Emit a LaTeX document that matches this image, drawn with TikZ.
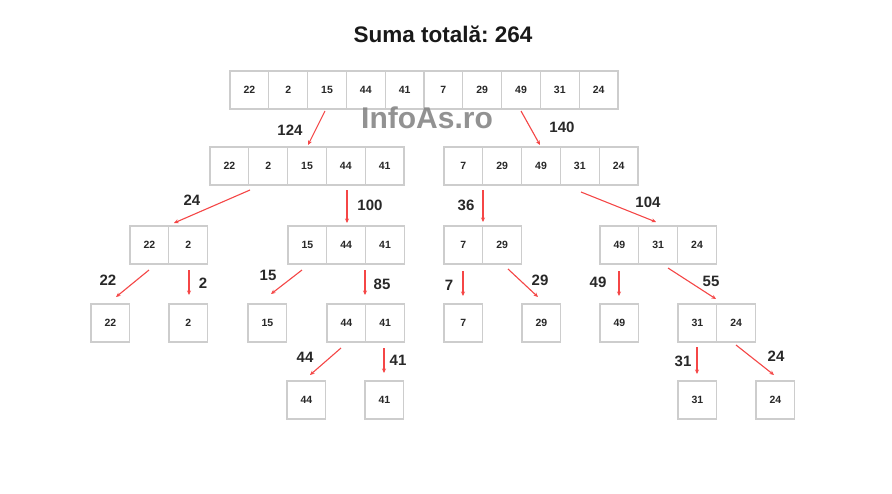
\documentclass[tikz,border=0pt]{standalone}
\usepackage{fontspec}
\setmainfont{Liberation Sans}
\usetikzlibrary{arrows.meta}
\definecolor{boxgray}{RGB}{205,205,205}
\definecolor{arrred}{RGB}{245,70,70}
\definecolor{txtdark}{RGB}{40,40,40}
\definecolor{wmgray}{RGB}{135,135,135}
\frenchspacing
\tikzset{
  cellbox/.style={draw=boxgray, line width=1.1pt, minimum width=38.8pt, minimum height=38pt,
    inner sep=0pt, font=\fontsize{10.5pt}{12pt}\selectfont\bfseries, text=txtdark},
  arr/.style={draw=arrred, line width=1.1pt, -{Stealth[length=4.5pt,width=4pt]}},
  lab/.style={font=\fontsize{15pt}{17pt}\selectfont\bfseries, text=txtdark, inner sep=0pt},
}
\newcommand{\cellrow}[4]{%
  \foreach \v [count=\i] in {#4} {
    \node[cellbox] (#1-\i) at ({#2+(\i-0.5)*38.8}, {#3+19}) {\v};
  }%
}
\newcommand{\arrlab}[8]{%
  \coordinate (#1s) at (#2,#3);
  \coordinate (#1e) at (#4,#5);
  \draw[arr] (#1s) -- (#1e);
  \node[lab] (#1l) at (#7,#8) {#6};
}
\begin{document}
\begin{tikzpicture}[x=1pt,y=-1pt]
\useasboundingbox (0,0) rectangle (892,493);
\fill[white] (0,0) rectangle (892,493);
\node[font=\fontsize{22.5pt}{26pt}\selectfont\bfseries, text=black!90] (title) at (443,34) {Suma totală: 264};
% level 0
\cellrow{r}{230}{71}{22,2,15,44,41,7,29,49,31,24}
% level 1
\cellrow{a}{210}{147}{22,2,15,44,41}
\cellrow{b}{444}{147}{7,29,49,31,24}
% level 2
\cellrow{c}{130}{226}{22,2}
\cellrow{d}{288}{226}{15,44,41}
\cellrow{e}{444}{226}{7,29}
\cellrow{f}{600}{226}{49,31,24}
% level 3
\cellrow{g}{91}{304}{22}
\cellrow{h}{169}{304}{2}
\cellrow{i}{248}{304}{15}
\cellrow{j}{327}{304}{44,41}
\cellrow{k}{444}{304}{7}
\cellrow{l}{522}{304}{29}
\cellrow{m}{600}{304}{49}
\cellrow{n}{678}{304}{31,24}
% level 4
\cellrow{o}{287}{381}{44}
\cellrow{p}{365}{381}{41}
\cellrow{q}{678}{381}{31}
\cellrow{s}{756}{381}{24}
% watermark
\node[font=\fontsize{30pt}{34pt}\selectfont\bfseries, text=wmgray, opacity=0.9] (wm) at (427,118) {InfoAs.ro};
% arrows
\arrlab{A1}{325}{111}{308}{145}{124}{290}{130}
\arrlab{A2}{521}{111}{540}{145}{140}{562}{127}
\arrlab{A3}{250}{190}{174}{223}{24}{192}{200}
\arrlab{A4}{347}{190}{347}{223}{100}{370}{205}
\arrlab{A5}{483}{190}{483}{222}{36}{466}{205}
\arrlab{A6}{581}{192}{656}{222}{104}{648}{202}
\arrlab{A7}{149}{270}{116}{297}{22}{108}{280}
\arrlab{A8}{189}{270}{189}{295}{2}{203}{283}
\arrlab{A9}{302}{270}{271}{294}{15}{268}{275}
\arrlab{A10}{365}{270}{365}{295}{85}{382}{284}
\arrlab{A11}{463}{271}{463}{296}{7}{449}{285}
\arrlab{A12}{508}{269}{538}{297}{29}{540}{280}
\arrlab{A13}{619}{271}{619}{296}{49}{598}{282}
\arrlab{A14}{668}{268}{716}{299}{55}{711}{281}
\arrlab{A15}{341}{348}{310}{375}{44}{305}{357}
\arrlab{A16}{384}{348}{384}{373}{41}{398}{360}
\arrlab{A17}{697}{347}{697}{374}{31}{683}{361}
\arrlab{A18}{736}{345}{774}{375}{24}{776}{356}
\end{tikzpicture}
\end{document}
